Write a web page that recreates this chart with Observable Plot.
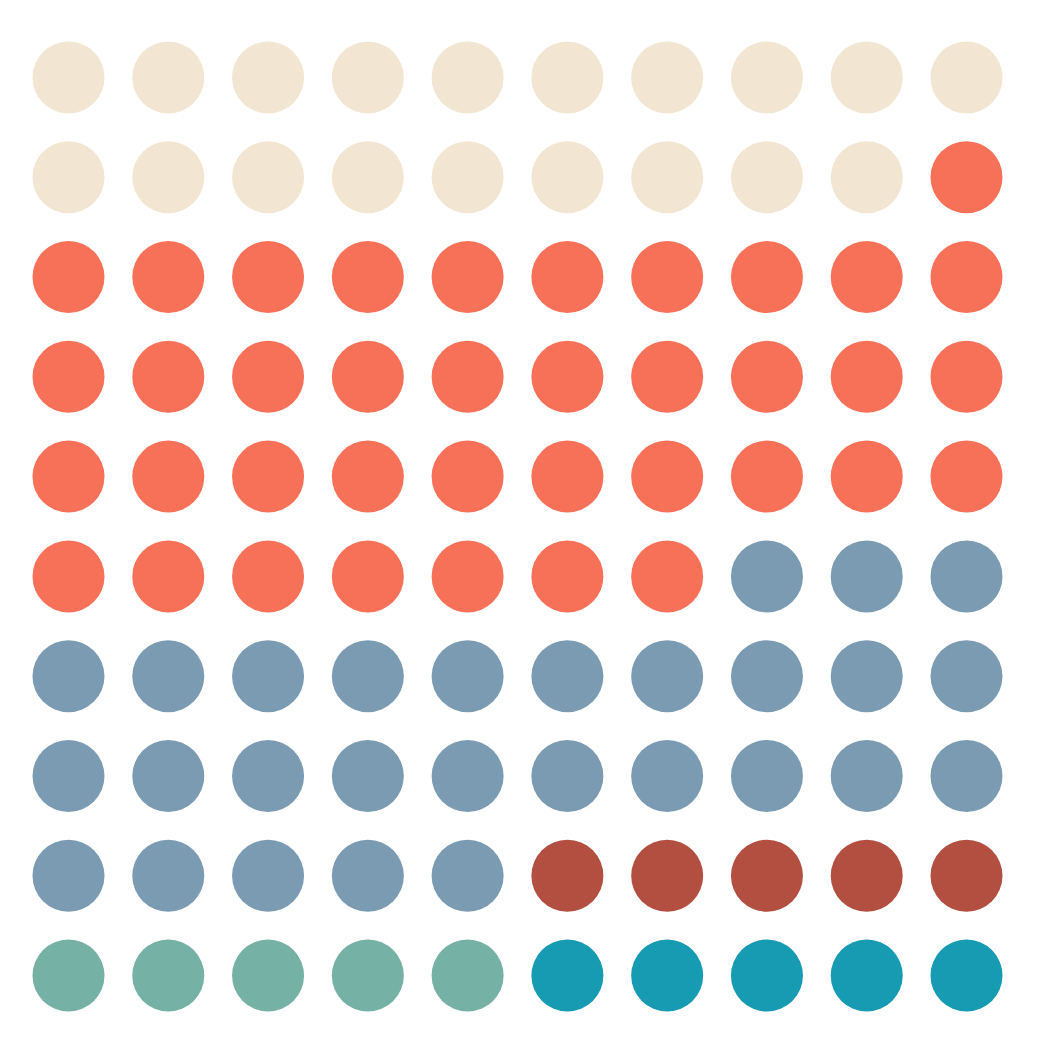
<!DOCTYPE html>
<html>
<head>
<meta charset="utf-8">
<script src="https://cdn.jsdelivr.net/npm/d3@7"></script>
<script src="https://cdn.jsdelivr.net/npm/@observablehq/plot@0.6"></script>
<style>
  html, body { margin: 0; padding: 0; background: #fff; }
  svg { display: block; }
</style>
</head>
<body>
<div id="chart"></div>
<script>
const categories = ["A", "B", "C", "D", "E", "F"];
const counts = [19, 38, 28, 5, 5, 5];
const colors = ["#f2e5d1", "#f77058", "#7a9bb2", "#b34f41", "#76b1a6", "#169bb3"];
const columns = 10;

const cells = [];
let i = 0;
categories.forEach((cat, k) => {
  for (let j = 0; j < counts[k]; j++, i++) {
    cells.push({cat, col: i % columns, row: Math.floor(i / columns)});
  }
});

const chart = Plot.plot({
  width: 1042,
  height: 1043,
  marginLeft: 68,
  marginRight: 76,
  marginTop: 77,
  marginBottom: 68,
  x: {domain: [0, 9], axis: null},
  y: {domain: [0, 9], axis: null, reverse: true},
  color: {domain: categories, range: colors},
  marks: [
    Plot.dot(cells, {x: "col", y: "row", r: 36, fill: "cat", stroke: null})
  ]
});
document.getElementById("chart").appendChild(chart);
</script>
</body>
</html>
